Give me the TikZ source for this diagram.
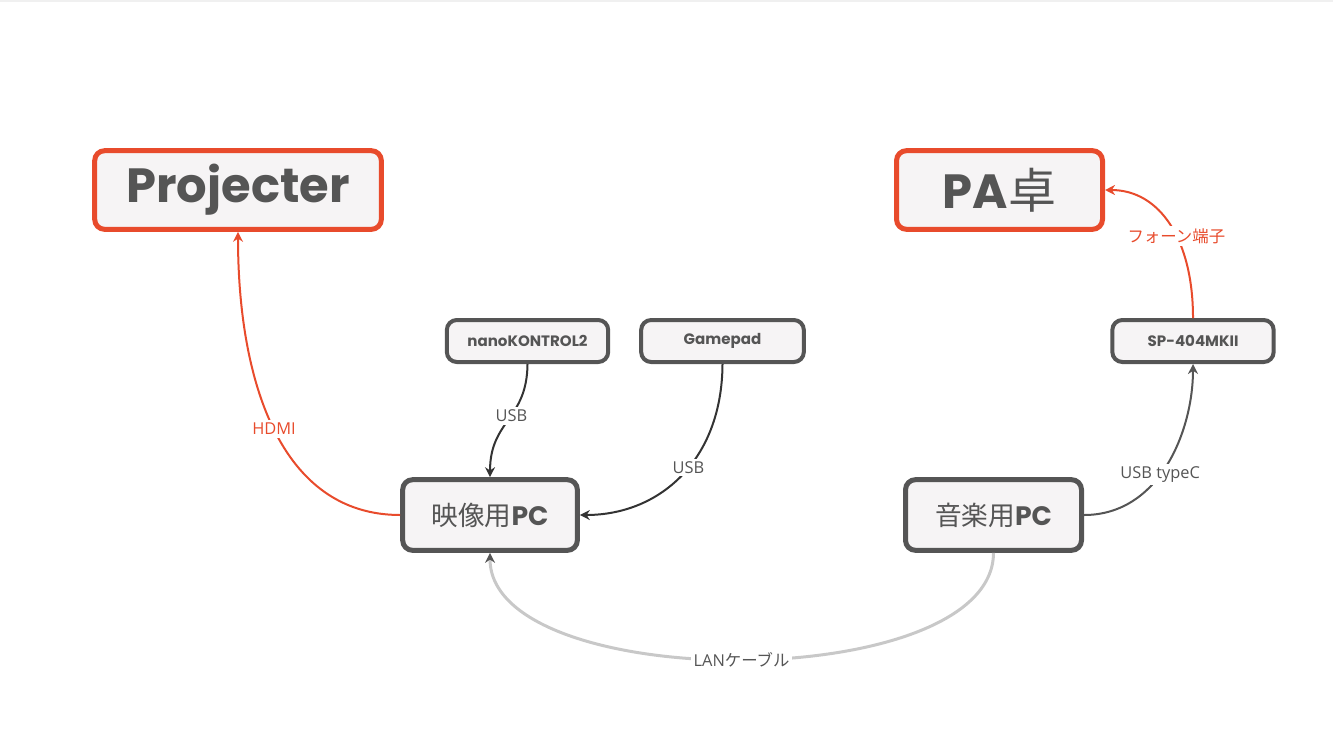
\documentclass[tikz,border=0pt]{standalone}
\usepackage{fontspec}
\setmainfont{Open Sans}
\newfontfamily\rnd{Poppins}
\newfontfamily\jp{Noto Sans CJK JP}
\usetikzlibrary{arrows.meta}
\definecolor{pred}{HTML}{E84B2C}
\definecolor{pgray}{HTML}{555555}
\definecolor{pdark}{HTML}{333333}
\definecolor{pfill}{HTML}{F6F4F5}
\definecolor{plan}{HTML}{C8C8C8}
\tikzset{box/.style={rectangle,rounded corners=7.5pt,draw=pgray,line width=3pt,fill=pfill,text=pgray,inner sep=0pt}}
\tikzset{big/.style={box,draw=pred,line width=3.75pt,minimum height=59pt,font=\rnd\bfseries\fontsize{36}{36}\selectfont}}
\tikzset{pc/.style={box,line width=3.75pt,minimum width=131pt,minimum height=53pt,font=\fontsize{20}{20}\selectfont}}
\tikzset{dev/.style={box,minimum width=121pt,minimum height=31.5pt,font=\rnd\bfseries\fontsize{11.3}{11.3}\selectfont}}
\tikzset{l/.style={fill=white,inner sep=2pt,text=pgray,font=\fontsize{12.3}{12.3}\selectfont}}
\tikzset{a/.style={-{Stealth[length=7.5pt,width=7.5pt]},line width=1.5pt}}

\begin{document}
\begin{tikzpicture}[x=0.75pt,y=-0.75pt]
      \useasboundingbox (0,0) rectangle (1333,750);
      \fill[black!6] (0,0) rectangle (1333,1.5);
      \node[big,minimum width=215pt] (proj) at (238,190) {Projecter};
      \node[big,minimum width=154.5pt] (pa) at (999.5,190) {PA{\jp\mdseries 卓}};
      \node[dev] (nano) at (527.5,341) {nanoKONTROL2};
      \node[dev,minimum width=122pt] (pad) at (722.5,341) {Gamepad};
      \node[dev] (sp) at (1193,341) {SP-404MKII};
      \node[pc] (pc1) at (490,515) {{\jp 映像用}{\rnd\bfseries PC}};
      \node[pc,minimum width=132pt] (pc2) at (993.5,515) {{\jp 音楽用}{\rnd\bfseries PC}};
      \draw[a,pred] (pc1.west) .. controls (280,515) and (238,380) .. node[l,text=pred] {HDMI} (proj.south);
      \draw[a,pdark] (nano.south) .. controls (527,420) and (490,420) .. node[l,pos=0.45] {USB} (pc1.north);
      \draw[a,pdark] (pad.south) .. controls (722,460) and (660,515) .. node[l,pos=0.45] {USB} (pc1.east);
      \draw[a,pgray] (pc2.east) .. controls (1160,515) and (1193,430) .. node[l,pos=0.44] {USB typeC} (sp.south);
      \draw[a,pred] (sp.north) .. controls (1193,240) and (1160,190) .. node[l,text=pred,pos=0.42] {\jp フォーン端子} (pa.east);
      \draw[a,plan,line width=2.25pt,-{Stealth[length=7.5pt,width=7.5pt,color=pgray]}] (pc2.south) .. controls (993,695) and (490,695) .. node[l] {LAN{\jp ケーブル}} (pc1.south);
    \end{tikzpicture}
\end{document}
